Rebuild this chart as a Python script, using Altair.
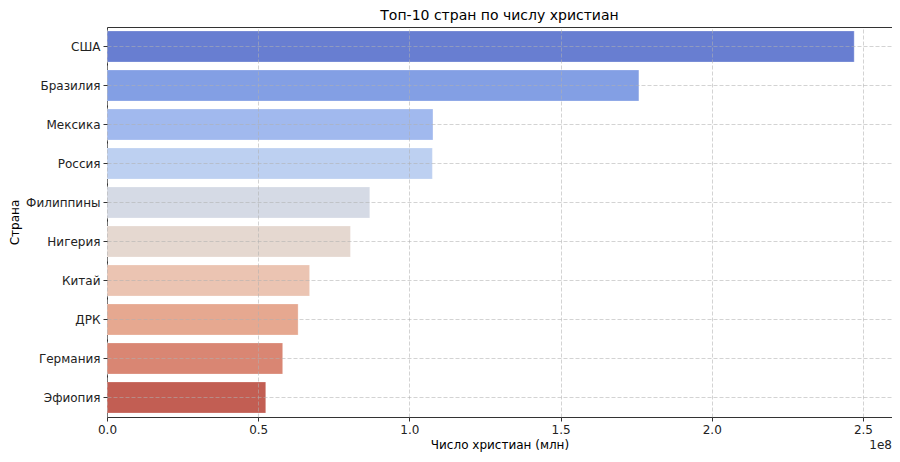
import altair as alt
import pandas as pd

countries = ["США", "Бразилия", "Мексика", "Россия", "Филиппины",
             "Нигерия", "Китай", "ДРК", "Германия", "Эфиопия"]
christians = [247.1e6, 175.9e6, 107.8e6, 107.6e6, 86.9e6,
              80.5e6, 67.0e6, 63.2e6, 58.1e6, 52.5e6]
colors = ["#687ED1", "#839FE4", "#A1B9EE", "#BDD0F1", "#D5DAE5",
          "#E5D8D0", "#EBC4B2", "#E6A890", "#D98673", "#C25E53"]

df = pd.DataFrame({"Страна": countries, "Число": christians})

FONT = "DejaVu Sans"

bars = alt.Chart(df).mark_bar(stroke="white", strokeWidth=0.6, strokeOpacity=0.5).encode(
    x=alt.X("Число:Q",
            scale=alt.Scale(domain=[0, 259.6e6], nice=False, zero=True),
            axis=alt.Axis(title="Число христиан (млн)",
                          values=[0, 0.5e8, 1.0e8, 1.5e8, 2.0e8, 2.5e8],
                          labelExpr="format(datum.value/1e8, '.1f')",
                          labelFlush=False,
                          grid=True, gridDash=[4, 2], gridColor="#b0b0b0",
                          gridOpacity=0.7, gridWidth=0.8,
                          domain=False, tickColor="#333333", tickSize=4,
                          labelPadding=3, titlePadding=4, zindex=1)),
    y=alt.Y("Страна:N", sort=countries,
            scale=alt.Scale(paddingInner=0.2, paddingOuter=0.1),
            axis=alt.Axis(title="Страна", grid=True, gridDash=[4, 2],
                          gridColor="#b0b0b0", gridOpacity=0.7, gridWidth=0.8,
                          domain=False, tickColor="#333333", tickSize=4,
                          labelPadding=3, titlePadding=4, zindex=1)),
    color=alt.Color("Страна:N", sort=countries,
                    scale=alt.Scale(domain=countries, range=colors), legend=None),
)

offset = alt.Chart(pd.DataFrame({"t": ["1e8"]})).mark_text(
    align="right", baseline="top", font=FONT, fontSize=12, color="#222222"
).encode(x=alt.value(785), y=alt.value(413), text="t:N")

chart = alt.layer(bars, offset).properties(
    width=785, height=390,
    title=alt.Title("Топ-10 стран по числу христиан", font=FONT, fontSize=14,
                    fontWeight="normal", color="#000000", offset=4),
    autosize=alt.AutoSizeParams(type="none"),
    padding={"left": 99, "top": 19, "right": 0, "bottom": 37},
).configure_view(
    stroke="#333333", strokeWidth=1
).configure_axis(
    labelFont=FONT, titleFont=FONT, labelFontSize=12, titleFontSize=12,
    titleFontWeight="normal", labelColor="#222222", titleColor="#000000"
)

chart.save("out.html", embed_options={"renderer": "svg", "actions": False})
